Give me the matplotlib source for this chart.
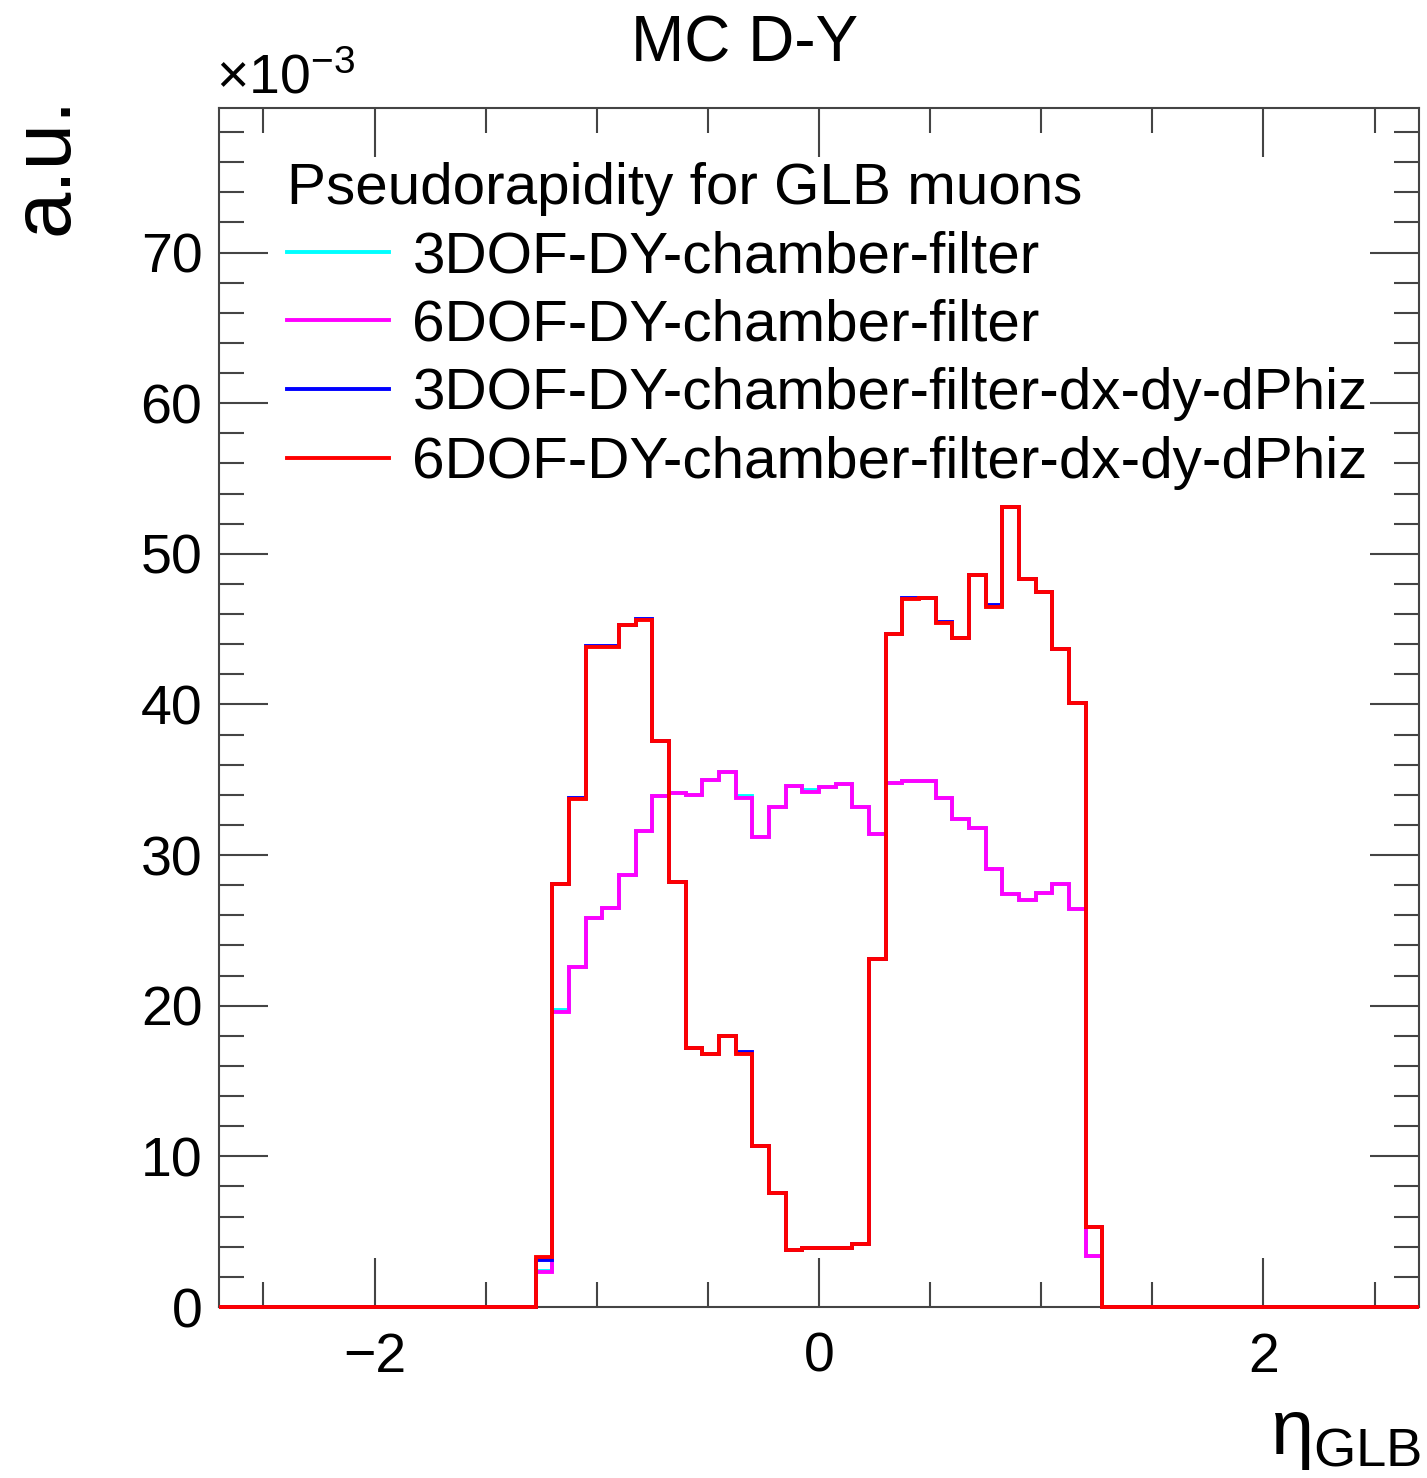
import numpy as np
import matplotlib
matplotlib.use("Agg")
import matplotlib.pyplot as plt
from matplotlib.ticker import MultipleLocator

plt.rcParams['font.family'] = ['Liberation Sans', 'DejaVu Sans']
plt.rcParams['mathtext.fontset'] = 'custom'
plt.rcParams['mathtext.rm'] = 'Liberation Sans'
plt.rcParams['mathtext.it'] = 'Liberation Sans'

# eta bins: width 0.075 over [-2.7, 2.7]; non-empty bins in [-1.275, 1.275]
eta_lo, eta_hi, bin_w = -2.7, 2.7, 0.075
filled_lo = -1.275

# bin contents, in units of 1e-3
red_6dof_dx = [3.3, 28.1, 33.7, 43.8, 43.8, 45.3, 45.6, 37.6, 28.2, 17.2,
               16.8, 18.0, 16.8, 10.7, 7.6, 3.8, 3.9, 3.9, 3.9, 4.2,
               23.1, 44.7, 47.0, 47.1, 45.4, 44.4, 48.6, 46.5, 53.1, 48.3,
               47.5, 43.7, 40.1, 5.3]
blue_3dof_dx = [3.1, 28.1, 33.8, 43.9, 43.9, 45.3, 45.7, 37.6, 28.2, 17.2,
                16.8, 18.0, 16.9, 10.7, 7.6, 3.8, 3.9, 3.9, 3.9, 4.2,
                23.1, 44.7, 47.1, 47.1, 45.5, 44.4, 48.6, 46.6, 53.1, 48.3,
                47.5, 43.7, 40.1, 5.3]
magenta_6dof = [2.3, 19.6, 22.6, 25.8, 26.5, 28.7, 31.6, 33.9, 34.1, 34.0,
                35.0, 35.5, 33.8, 31.2, 33.2, 34.6, 34.2, 34.5, 34.7, 33.2,
                31.4, 34.8, 34.9, 34.9, 33.8, 32.4, 31.8, 29.1, 27.4, 27.0,
                27.5, 28.1, 26.4, 3.4]
cyan_3dof = [2.4, 19.7, 22.6, 25.8, 26.5, 28.7, 31.6, 33.9, 34.1, 34.0,
             35.0, 35.5, 33.9, 31.2, 33.2, 34.6, 34.3, 34.5, 34.7, 33.2,
             31.4, 34.8, 34.9, 34.9, 33.8, 32.4, 31.8, 29.1, 27.4, 27.0,
             27.5, 28.1, 26.4, 3.4]

labels = ['3DOF-DY-chamber-filter', '6DOF-DY-chamber-filter',
          '3DOF-DY-chamber-filter-dx-dy-dPhiz', '6DOF-DY-chamber-filter-dx-dy-dPhiz']
colors = ['#00ffff', '#ff00ff', '#0000ff', '#ff0000']


def full_hist(vals):
    n_tot = int(round((eta_hi - eta_lo) / bin_w))
    n_left = int(round((filled_lo - eta_lo) / bin_w))
    h = np.zeros(n_tot)
    h[n_left:n_left + len(vals)] = vals
    return h


def main():
    edges = np.linspace(eta_lo, eta_hi, int(round((eta_hi - eta_lo) / bin_w)) + 1)
    fig = plt.figure(figsize=(14.27, 14.78), dpi=100)
    ax = fig.add_axes([219 / 1427, 1 - 1307 / 1478, 1200 / 1427, 1199 / 1478])

    for sp in ax.spines.values():
        sp.set_color('#444444')
        sp.set_linewidth(1.5)

    handles = []
    for vals, c, lab in zip([cyan_3dof, magenta_6dof, blue_3dof_dx, red_6dof_dx], colors, labels):
        ax.stairs(full_hist(vals), edges, baseline=None, color=c, lw=2.8,
                  clip_on=False, zorder=3)
        handles.append(plt.Line2D([], [], color=c, lw=2.8, label=lab))

    ax.set_xlim(eta_lo, eta_hi)
    ax.set_ylim(0, 79.6)
    ax.xaxis.set_major_locator(MultipleLocator(2))
    ax.xaxis.set_minor_locator(MultipleLocator(0.5))
    ax.yaxis.set_major_locator(MultipleLocator(10))
    ax.yaxis.set_minor_locator(MultipleLocator(2))
    ax.tick_params(which='both', direction='in', top=True, right=True, color='#444444', width=1.5)
    ax.tick_params(which='major', length=35, labelsize=40)
    ax.tick_params(which='minor', length=18)
    ax.tick_params(axis='x', pad=18)
    ax.tick_params(axis='y', pad=12)

    ax.legend(handles=handles, loc='upper left', bbox_to_anchor=(0.047, 0.965),
              frameon=False, fontsize=42, title='Pseudorapidity for GLB muons',
              title_fontsize=42, alignment='left', handlelength=1.75,
              handletextpad=0.4, labelspacing=0.25, borderaxespad=0,
              borderpad=0.2)

    fig.text(745 / 1427, 1 - 45 / 1478, 'MC D-Y', fontsize=46, ha='center', va='center')
    fig.text(45 / 1427, 1 - 165 / 1478, 'a.u.', fontsize=60, rotation=90, ha='center', va='center')
    fig.text(216 / 1427, 1 - 80 / 1478, r'$\times10^{-3}$', fontsize=40, ha='left', va='center')
    fig.text(1421 / 1427, 1 - 1435 / 1478, r'$\eta_{\mathrm{GLB}}$', fontsize=56, ha='right', va='center')

    fig.savefig('out.png', dpi=100)


if __name__ == "__main__":
    main()
